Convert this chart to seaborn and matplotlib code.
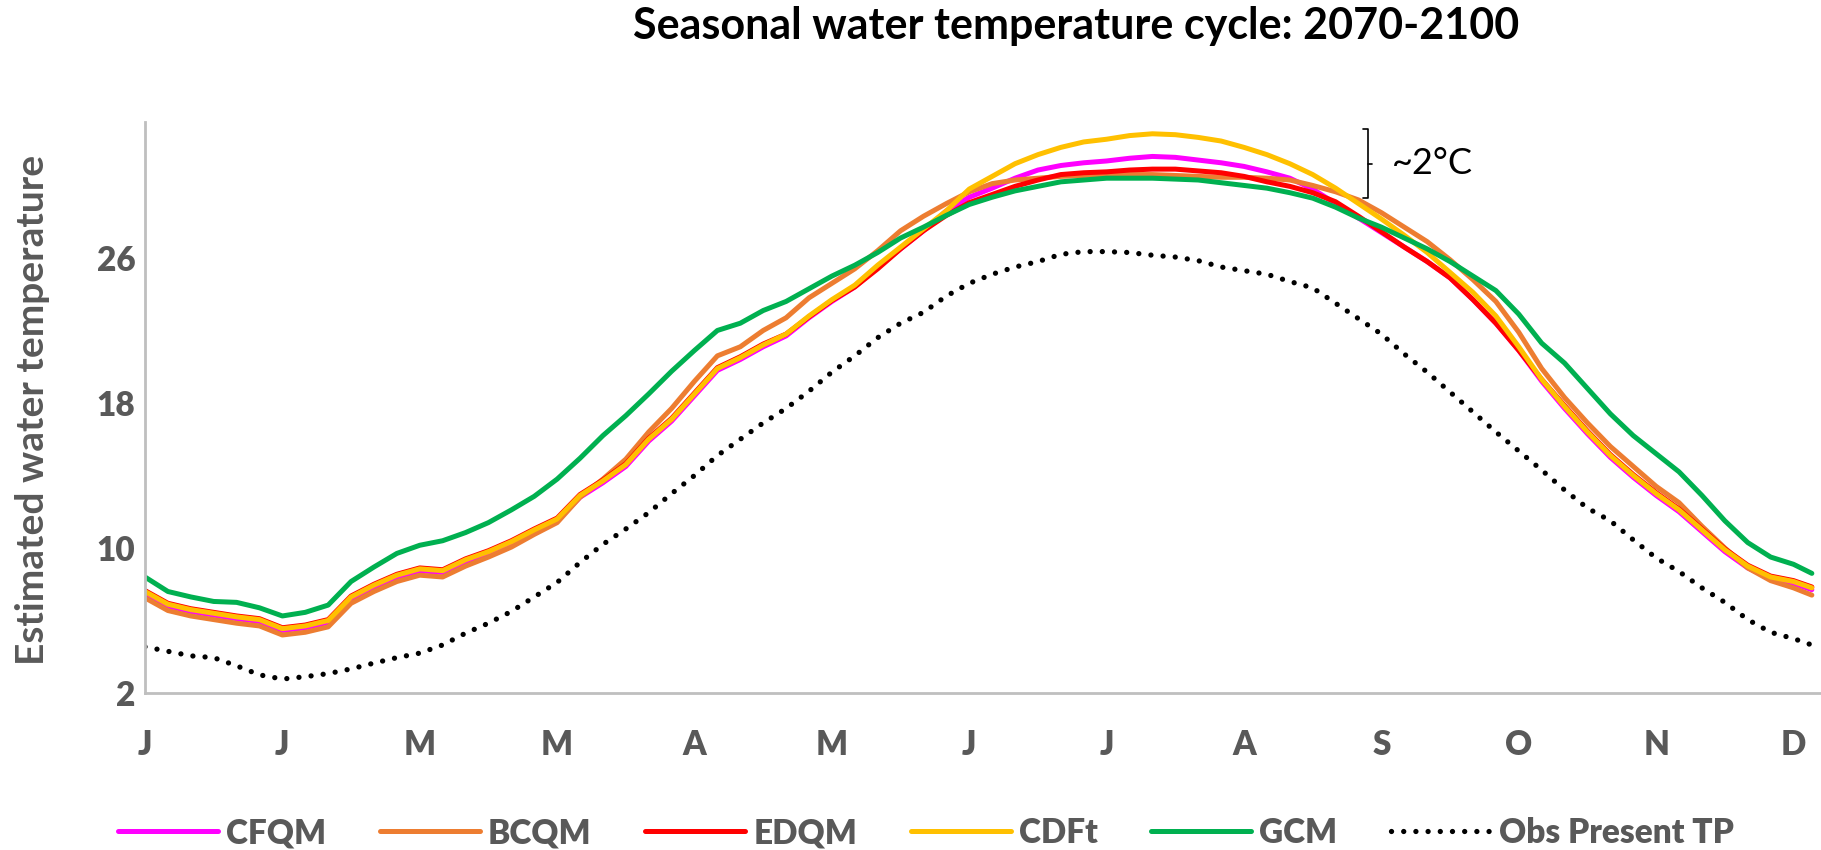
import numpy as np
import pandas as pd
import matplotlib
matplotlib.use("Agg")
import matplotlib.pyplot as plt
import seaborn as sns

# ---------------- data ----------------
day = list(range(1, 362, 5)) + [365]

gcm = [8.4, 7.6, 7.3, 7.05, 7.0, 6.7, 6.25, 6.45, 6.85, 8.15, 8.95, 9.7, 10.15, 10.4, 10.85,
       11.4, 12.1, 12.85, 13.8, 14.95, 16.2, 17.3, 18.5, 19.75, 20.9, 22.0, 22.4, 23.1, 23.6,
       24.3, 25.0, 25.6, 26.3, 27.1, 27.7, 28.35, 28.95, 29.35, 29.7, 29.95, 30.2, 30.3, 30.4,
       30.4, 30.4, 30.35, 30.3, 30.15, 30.0, 29.85, 29.6, 29.3, 28.8, 28.2, 27.7, 27.1, 26.5,
       25.8, 25.0, 24.2, 22.9, 21.3, 20.2, 18.8, 17.4, 16.2, 15.2, 14.2, 12.9, 11.5, 10.3, 9.5,
       9.1, 8.6]

cdft = [7.6, 6.9, 6.6, 6.4, 6.2, 6.05, 5.55, 5.7, 6.0, 7.3, 7.95, 8.5, 8.85, 8.75, 9.35,
        9.8, 10.35, 11.0, 11.6, 12.9, 13.7, 14.6, 16.0, 17.1, 18.5, 19.9, 20.5, 21.2, 21.8,
        22.8, 23.7, 24.5, 25.6, 26.6, 27.6, 28.6, 29.8, 30.5, 31.2, 31.7, 32.1, 32.4, 32.55,
        32.75, 32.85, 32.8, 32.65, 32.45, 32.1, 31.7, 31.2, 30.6, 29.85, 29.0, 28.15, 27.25,
        26.3, 25.2, 24.1, 22.8, 21.1, 19.3, 17.8, 16.4, 15.1, 14.0, 13.0, 12.1, 11.0, 9.9, 9.0,
        8.4, 8.15, 7.8]

edqm = [7.65, 6.95, 6.65, 6.45, 6.25, 6.1, 5.6, 5.75, 6.05, 7.35, 8.0, 8.55, 8.9, 8.8, 9.4,
        9.85, 10.4, 11.05, 11.65, 12.95, 13.75, 14.65, 16.05, 17.15, 18.55, 19.95, 20.55,
        21.25, 21.8, 22.75, 23.65, 24.4, 25.4, 26.5, 27.5, 28.35, 29.05, 29.5, 29.95, 30.3,
        30.6, 30.7, 30.75, 30.85, 30.9, 30.9, 30.8, 30.7, 30.5, 30.2, 29.95, 29.6, 29.1, 28.3,
        27.45, 26.6, 25.8, 24.9, 23.7, 22.4, 20.9, 19.3, 17.85, 16.45, 15.15, 14.05, 13.05,
        12.15, 11.05, 9.95, 9.05, 8.45, 8.2, 7.85]

cfqm = [7.5, 6.8, 6.5, 6.3, 6.1, 5.95, 5.45, 5.6, 5.9, 7.2, 7.85, 8.4, 8.75, 8.65, 9.25,
        9.7, 10.25, 10.9, 11.5, 12.8, 13.6, 14.5, 15.9, 17.0, 18.4, 19.8, 20.4, 21.1, 21.7,
        22.7, 23.6, 24.4, 25.5, 26.5, 27.5, 28.6, 29.35, 29.85, 30.4, 30.85, 31.1, 31.25,
        31.35, 31.5, 31.6, 31.55, 31.4, 31.25, 31.05, 30.75, 30.4, 29.8, 29.0, 28.2, 27.4,
        26.6, 25.8, 24.9, 23.7, 22.4, 20.9, 19.2, 17.7, 16.3, 15.0, 13.9, 12.9, 12.0, 10.9,
        9.8, 8.9, 8.3, 8.05, 7.7]

bcqm = [7.25, 6.55, 6.25, 6.05, 5.85, 5.7, 5.2, 5.35, 5.65, 6.95, 7.6, 8.15, 8.5, 8.4, 9.0,
        9.5, 10.05, 10.75, 11.4, 12.8, 13.8, 14.9, 16.4, 17.7, 19.2, 20.6, 21.1, 22.0, 22.7,
        23.8, 24.6, 25.4, 26.4, 27.5, 28.3, 29.0, 29.65, 30.1, 30.3, 30.4, 30.5, 30.55, 30.6,
        30.6, 30.6, 30.55, 30.5, 30.45, 30.45, 30.4, 30.3, 30.0, 29.65, 29.2, 28.5, 27.7,
        26.9, 25.9, 24.8, 23.6, 21.9, 19.9, 18.3, 16.9, 15.6, 14.5, 13.4, 12.5, 11.2, 10.0,
        8.9, 8.2, 7.8, 7.4]

obs = [4.55, 4.3, 4.05, 3.95, 3.5, 3.0, 2.77, 2.9, 3.07, 3.33, 3.65, 3.95, 4.2, 4.65, 5.3,
       5.85, 6.5, 7.3, 8.1, 9.2, 10.2, 11.05, 11.95, 13.0, 14.0, 15.1, 16.0, 16.9, 17.7,
       18.65, 19.7, 20.6, 21.6, 22.4, 23.0, 23.9, 24.6, 25.1, 25.5, 25.8, 26.2, 26.35, 26.35,
       26.3, 26.15, 26.05, 25.85, 25.5, 25.3, 25.1, 24.7, 24.35, 23.5, 22.65, 21.8, 20.7,
       19.7, 18.6, 17.5, 16.4, 15.35, 14.3, 13.2, 12.2, 11.5, 10.45, 9.45, 8.7, 7.8, 7.0,
       6.05, 5.35, 5.0, 4.65]

series_names = ["CFQM", "BCQM", "EDQM", "CDFt", "GCM", "Obs Present TP"]
series_values = [cfqm, bcqm, edqm, cdft, gcm, obs]
series_colors = ["#FF00FF", "#ED7D31", "#FF0000", "#FFC000", "#00B050", "#000000"]

month_ticks = list(range(1, 362, 30))
month_labels = ["J", "J", "M", "M", "A", "M", "J", "J", "A", "S", "O", "N", "D"]
y_ticks = [2, 10, 18, 26]

title = "Seasonal water temperature cycle: 2070-2100"
ylabel = "Estimated water temperature"
note = "~2\u00b0C"
bracket_day = 268
bracket_low, bracket_high = 29.3, 33.1

# ---------------- figure ----------------
sns.set_theme(style="white")
plt.rcParams["font.family"] = ["Lato", "DejaVu Sans"]
grey = "#595959"

fig = plt.figure(figsize=(18.21, 8.5), dpi=100)
ax = fig.add_axes([145 / 1821, 1 - 693 / 850, 1 - 145 / 1821, (693 - 122) / 850])

df = pd.DataFrame({"day": day})
for name, vals in zip(series_names, series_values):
    df[name] = vals

for name, col in zip(series_names, series_colors):
    if name.startswith("Obs"):
        sns.lineplot(data=df, x="day", y=name, ax=ax, color=col, lw=3.8,
                     linestyle=(0, (0.01, 2.3)), dash_capstyle="round", label=name)
    else:
        sns.lineplot(data=df, x="day", y=name, ax=ax, color=col, lw=3.6,
                     solid_capstyle="round", label=name)

ax.set_xlim(1, 367)
ax.set_ylim(2, 33.5)
ax.set_xticks(month_ticks)
ax.set_xticklabels(month_labels)
ax.set_yticks(y_ticks)
ax.tick_params(axis="x", length=0, pad=26, labelsize=24, labelcolor=grey)
ax.tick_params(axis="y", length=0, pad=7, labelsize=24, labelcolor=grey)
for lab in ax.get_xticklabels() + ax.get_yticklabels():
    lab.set_fontweight("heavy")
ax.set_xlabel("")
ax.set_ylabel("")
for s in ["top", "right"]:
    ax.spines[s].set_visible(False)
for s in ["left", "bottom"]:
    ax.spines[s].set_color("#BFBFBF")
    ax.spines[s].set_linewidth(2)

# bracket annotation (~2 deg C)
mid = (bracket_low + bracket_high) / 2
ax.plot([bracket_day - 1, bracket_day, bracket_day, bracket_day - 1],
        [bracket_high, bracket_high, bracket_low, bracket_low], color="black", lw=1.2)
ax.plot([bracket_day, bracket_day + 1], [mid, mid], color="black", lw=1.2)
ax.text(bracket_day + 5.3, mid, note, fontsize=26, color="black", va="center", ha="left")

fig.text(1076 / 1821, 1 - 26 / 850, title, fontsize=31, fontweight="bold",
         color="black", ha="center", va="center")
fig.text(33 / 1821, 1 - 410 / 850, ylabel, fontsize=28, fontweight="bold",
         color=grey, ha="center", va="center", rotation=90)

leg = ax.legend(loc="center", bbox_to_anchor=(926 / 1821, 1 - 833 / 850),
                bbox_transform=fig.transFigure, ncol=6, frameon=False,
                fontsize=24, handlelength=3.0, handletextpad=0.25, columnspacing=1.6)
for t in leg.get_texts():
    t.set_color(grey)
    t.set_fontweight("heavy")

fig.savefig("out.png", dpi=100)
